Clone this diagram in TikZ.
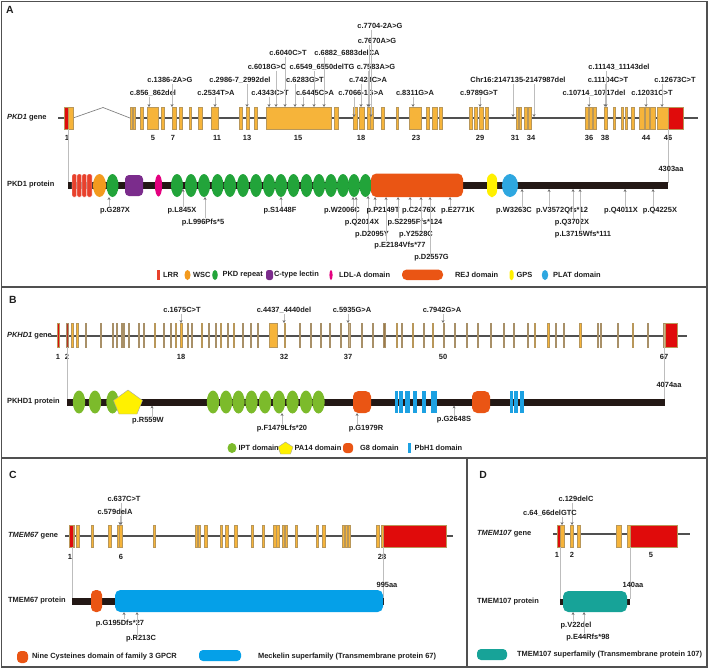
\documentclass[tikz,border=0pt]{standalone}
\usepackage{fontspec}
\setmainfont{Liberation Sans}
\usetikzlibrary{arrows.meta}
\definecolor{exono}{HTML}{F6B43A}
\definecolor{exonb}{HTML}{B8975A}
\definecolor{exred}{HTML}{E00B0B}
\definecolor{tanex}{HTML}{CBB38C}
\definecolor{tanb}{HTML}{A89068}
\definecolor{brownex}{HTML}{9C7A4A}
\definecolor{pbar}{HTML}{231815}
\definecolor{lrr}{HTML}{E8412C}
\definecolor{wsc}{HTML}{F39A1E}
\definecolor{pkd}{HTML}{22A43A}
\definecolor{ctl}{HTML}{7B2C8C}
\definecolor{ldl}{HTML}{E4007F}
\definecolor{rej}{HTML}{EA5514}
\definecolor{gps}{HTML}{FFF000}
\definecolor{plat}{HTML}{2EA7E0}
\definecolor{ipt}{HTML}{7CBB2B}
\definecolor{pa}{HTML}{FFF100}
\definecolor{pbh}{HTML}{1DA1E2}
\definecolor{meck}{HTML}{05A0E8}
\definecolor{tmt}{HTML}{17A398}
\definecolor{txt}{HTML}{1E1E1E}
\definecolor{lgray}{HTML}{BDBDBD}
\definecolor{tipg}{HTML}{6E6E6E}
\definecolor{frm}{HTML}{505050}
\newcommand{\mutdn}[6]{%
  \node[lbl] (#1) at (#2,#3) {#6};
  \coordinate (#1m) at (#4,#5);
  \draw[mutline] (#1.south -| #1m) -- (#1m);
}
\newcommand{\mutup}[6]{%
  \node[lbl] (#1) at (#2,#3) {#6};
  \coordinate (#1m) at (#4,#5);
  \draw[mutline] (#1.north -| #1m) -- (#1m);
}
\begin{document}
\begin{tikzpicture}[x=0.75pt,y=-0.75pt,
  lbl/.style={font=\fontsize{5.6}{6.5}\selectfont\bfseries, text=txt, inner sep=0.6pt},
  lbll/.style={lbl, anchor=west},
  panel/.style={font=\fontsize{7.8}{9}\selectfont\bfseries, text=txt, inner sep=0pt},
  mutline/.style={draw=lgray, line width=0.45pt, -{Stealth[length=2.2pt,width=2.2pt,color=tipg]}},
  conn/.style={draw=lgray, line width=0.6pt},
  geneline/.style={draw=frm, line width=0.85pt},
  exonbox/.style={fill=exono, draw=exonb, line width=0.25pt},
  tanbox/.style={fill=tanex, draw=tanb, line width=0.25pt},
  brownbox/.style={fill=brownex, draw=tanb, line width=0.25pt},
  redbox/.style={fill=exred, draw=exonb, line width=0.25pt},
  frame/.style={draw=frm, line width=1.1pt},
  bar/.style={fill=pbar}
]
\useasboundingbox (0,0) rectangle (709,669);
\fill[white] (0,0) rectangle (709,669);
% ---------- frames ----------
\draw[frame] (1.5,1.5) rectangle (707,667);
\draw[frame] (1.5,287) -- (707,287);
\draw[frame] (1.5,458) -- (707,458);
\draw[frame] (467,458) -- (467,667);
\node[panel] (pA) at (10,10) {A};
\node[panel] (pB) at (13,300) {B};
\node[panel] (pC) at (13,475) {C};
\node[panel] (pD) at (483,475) {D};

% ================= PANEL A =================
\node[lbll] (genA) at (6,118) {\textit{PKD1} gene};
\draw[geneline] (58,118) -- (64,118);
\draw[geneline] (130,118) -- (698,118);
\draw[draw=gray, line width=0.5pt] (73,118) -- (103,107.5) -- (130,118);
\foreach \a/\b in {68/73,130/132,133/135,140/143,147/158,161/164,172/176,179/182,189/191,198/202,211/218,239/242,246/249,254/257,266/331,334/338,353/357,359/364,367/370,370.5/373,381/384,396/398,409/421,426/429,432/437,439/442,469/472,474/477,479/483,485/488,516/518,519/521,524/527,528/531,585/588,589/592,593/596,604/607,613/615,621/623,625/627,631/634,639/644,645/649,650/655,657/668}
  \draw[exonbox] (\a,107) rectangle (\b,129);
\draw[redbox] (64,107) rectangle (68,129);
\draw[redbox] (668,107) rectangle (683,129);
\foreach \x/\n in {67/1,153/5,173/7,217/11,247/13,298/15,361/18,416/23,480/29,515/31,531/34,589/36,605/38,646/44,668/46}
  \node[lbl] (eA\n) at (\x,138) {\n};
% gene mutations
\mutdn{mA1}{153}{93}{149}{107}{c.856\_862del}
\mutdn{mA2}{170}{80}{172}{107}{c.1386-2A>G}
\mutdn{mA3}{216}{93}{215}{107}{c.2534T>A}
\mutdn{mA4}{240}{80}{247}{107}{c.2986-7\_2992del}
\mutdn{mA5}{270}{93}{269}{107}{c.4343C>T}
\mutdn{mA6}{267}{67}{276}{107}{c.6018G>C}
\mutdn{mA7}{288}{53}{285}{107}{c.6040C>T}
\mutdn{mA8}{305}{80}{295}{107}{c.6283G>T}
\mutdn{mA9}{315}{93}{303}{107}{c.6445C>A}
\mutdn{mA10}{322}{67}{314}{107}{c.6549\_6550delTG}
\mutdn{mA11}{347}{53}{324}{107}{c.6882\_6883delCA}
\mutdn{mA12}{361}{93}{354}{117}{c.7066-1G>A}
\mutdn{mA13}{368}{80}{361}{107}{c.7428C>A}
\mutdn{mA14}{376}{67}{368}{107}{c.7583A>G}
\mutdn{mA15}{377}{41}{369}{107}{c.7670A>G}
\mutdn{mA16}{380}{26}{371}{117}{c.7704-2A>G}
\mutdn{mA17}{415}{93}{413}{107}{c.8311G>A}
\mutdn{mA18}{479}{93}{480}{107}{c.9789G>T}
\mutdn{mA19}{518}{80}{513}{117}{Chr16:2147135-2147987del}
\coordinate (mA19n) at (534,117);
\draw[mutline] (mA19.south -| mA19n) -- (mA19n);
\mutdn{mA20}{594}{93}{589}{107}{c.10714\_10717del}
\mutdn{mA21}{608}{80}{605}{107}{c.11104C>T}
\mutdn{mA22}{619}{67}{606}{107}{c.11143\_11143del}
\mutdn{mA23}{652}{93}{646}{107}{c.12031C>T}
\mutdn{mA24}{675}{80}{662}{107}{c.12673C>T}
% protein A
\coordinate (cA1t) at (68,129); \coordinate (cA1b) at (68,182);
\coordinate (cA2t) at (668,129); \coordinate (cA2b) at (668,183);
\draw[conn] (cA1t) -- (cA1b);
\draw[conn] (cA2t) -- (cA2b);
\node[lbll] (protA) at (6,185) {PKD1 protein};
\fill[bar] (68,182) rectangle (668,188.5);
\node[lbl] (aaA) at (671,169) {4303aa};
\foreach \a/\b in {72/76.6,77/81.6,82/86.6,87/92}
  \draw[fill=lrr, draw=white, line width=0.2pt, rounded corners=1pt] (\a,174) rectangle (\b,197);
\fill[wsc] (99.5,185.5) ellipse [x radius=6.5, y radius=11.5];
\foreach \c in {112.5,177,191,204,217.5,230,243,256,269,281,293.5,306.5,319,331,343,354,365.5}
  \fill[pkd] (\c,185.5) ellipse [x radius=6, y radius=11.5];
\fill[ctl, rounded corners=3pt] (125,175) rectangle (143,196);
\fill[ldl] (158.5,185.5) ellipse [x radius=3.6, y radius=11];
\fill[rej, rounded corners=4pt] (371,173.5) rectangle (463,197);
\fill[gps, rounded corners=4.5pt] (487,173.5) rectangle (497,197);
\fill[plat] (510,185.5) ellipse [x radius=8, y radius=11.5];
% protein mutations A
\mutup{pA1}{115}{211}{109}{197}{p.G287X}
\mutup{pA2}{182}{211}{183}{189}{p.L845X}
\mutup{pA3}{203}{223}{205}{197}{p.L996Pfs*5}
\mutup{pA4}{280}{211}{281}{197}{p.S1448F}
\mutup{pA5}{342}{211}{353}{197}{p.W2006C}
\mutup{pA6}{362}{223}{356}{197}{p.Q2014X}
\mutup{pA7}{372}{235}{368}{196}{p.D2095Y}
\mutup{pA8}{383}{211}{375}{197}{p.P2149T}
\mutup{pA9}{400}{246}{386}{197}{p.E2184Vfs*77}
\mutup{pA10}{415}{223}{398}{197}{p.S2295Ffs*124}
\mutup{pA11}{419}{211}{410}{197}{p.C2476X}
\mutup{pA12}{416}{235}{421}{197}{p.Y2528C}
\mutup{pA13}{431.5}{258}{430}{197}{p.D2557G}
\mutup{pA14}{458}{211}{450}{197}{p.E2771K}
\mutup{pA15}{514}{211}{522}{189}{p.W3263C}
\mutup{pA16}{562}{211}{549}{189}{p.V3572Qfs*12}
\mutup{pA17}{572}{223}{573}{189}{p.Q3702X}
\mutup{pA18}{583}{235}{580}{189}{p.L3715Wfs*111}
\mutup{pA19}{621}{211}{625}{189}{p.Q4011X}
\mutup{pA20}{660}{211}{653}{189}{p.Q4225X}
% legend A
\fill[lrr] (157,270) rectangle (159.5,280);
\node[lbll] (lgA1) at (162,275) {LRR};
\fill[wsc] (187.5,275) ellipse [x radius=3, y radius=5];
\node[lbll] (lgA2) at (192,275) {WSC};
\fill[pkd] (215,275) ellipse [x radius=2.8, y radius=5];
\node[lbll] (lgA3) at (221.5,275) {PKD repeat};
\fill[ctl, rounded corners=1.8pt] (266,270) rectangle (273,280);
\node[lbll] (lgA4) at (273,275) {C-type lectin};
\fill[ldl] (331,275) ellipse [x radius=1.6, y radius=5];
\node[lbll] (lgA5) at (338,275) {LDL-A domain};
\fill[rej, rounded corners=3.5pt] (402,269.5) rectangle (443,280);
\node[lbll] (lgA6) at (454,275) {REJ domain};
\fill[gps, rounded corners=1.8pt] (509.5,270) rectangle (513.5,280);
\node[lbll] (lgA7) at (515.5,275) {GPS};
\fill[plat] (545,275) ellipse [x radius=3.2, y radius=5];
\node[lbll] (lgA8) at (552,275) {PLAT domain};

% ================= PANEL B =================
\node[lbll] (genB) at (6,336) {\textit{PKHD1} gene};
\draw[geneline] (51,336) -- (687,336);
\foreach \a/\b in {85/86.5,100/101.5,112/113.5,116/117.5,121/122.3,122.7/124,128/129.5,138/139.5,143/144.5,163/164.5,170/171.5,187/188.5,191/192.5,208/209.5,215/216.5,227/228.5,242/243.5,250/251.5,257/258.5,299/300.5,310/311.5,320/321.5,329/330.5,340/341.5,348/350.5,361/362.5,372/373.5,401/402.5,423/424.5,443/444.5,454/455.5,466/467.5,477/478.5,490/491.5,503/504.5,513/514.5,555/556.5,563/564.5,597/598.5,600/601.5,617/618.5,647/648.5,663/665}
  \draw[tanbox] (\a,323) rectangle (\b,347);
\foreach \a/\b in {71/73,76/78,154/155.5,175/176.5,180/182,201/202.5,220/221.5,233/234.5,269/277,284/285.5,396/397.5,412/413.5,432/433.5,534/535.5,547/549.5,579/581.5,632/633.5}
  \draw[exonbox] (\a,323) rectangle (\b,347);
\foreach \a/\b in {383/385.5,527/528.5}
  \draw[brownbox] (\a,323) rectangle (\b,347);
\draw[fill=lrr!80!black, draw=tanb, line width=0.25pt] (66,323) rectangle (68,347);
\draw[redbox] (57,323) rectangle (59,347);
\draw[redbox] (665,323) rectangle (677,347);
\foreach \x/\n in {58/1,67/2,181/18,284/32,348/37,443/50,664/67}
  \node[lbl] (eB\n) at (\x,357) {\n};
\mutdn{mB1}{182}{310}{181}{323}{c.1675C>T}
\mutdn{mB2}{284}{310}{284}{323}{c.4437\_4440del}
\mutdn{mB3}{352}{310}{348}{323}{c.5935G>A}
\mutdn{mB4}{442}{310}{443}{323}{c.7942G>A}
% protein B
\coordinate (cB1t) at (67,347); \coordinate (cB1b) at (67,399);
\coordinate (cB2t) at (664,347); \coordinate (cB2b) at (664,400);
\draw[conn] (cB1t) -- (cB1b);
\draw[conn] (cB2t) -- (cB2b);
\node[lbll] (protB) at (6,402) {PKHD1 protein};
\fill[bar] (67,399) rectangle (665,405.5);
\node[lbl] (aaB) at (669,385) {4074aa};
\foreach \c in {79,95,112.5,213,226,238.5,251.5,265,279,292.5,306,318.5}
  \fill[ipt] (\c,402) ellipse [x radius=6.2, y radius=11.5];
\draw[fill=pa, draw=gray!70, line width=0.3pt] (128,390) -- (142.5,400.5) -- (137,414) -- (119,414) -- (113.5,400.5) -- cycle;
\fill[rej, rounded corners=4pt] (353,391) rectangle (371,413);
\fill[rej, rounded corners=4pt] (472,391) rectangle (490,413);
\foreach \a/\b in {395/398.2,398.8/402.5,405/409.5,413/417,422/426,431/437,510/513.3,514/517.7,520/524.3}
  \fill[pbh] (\a,391) rectangle (\b,413);
\mutup{pB1}{148}{421}{152}{405.5}{p.R559W}
\mutup{pB2}{282}{429}{282}{413}{p.F1479Lfs*20}
\mutup{pB3}{366}{429}{357}{413}{p.G1979R}
\mutup{pB4}{454}{420}{454}{405.5}{p.G2648S}
% legend B
\fill[ipt] (232,448) ellipse [x radius=4.5, y radius=5];
\node[lbll] (lgB1) at (237.5,448) {IPT domain};
\draw[fill=pa, draw=gray!70, line width=0.3pt] (285.5,442) -- (293,447) -- (290.5,454) -- (280.5,454) -- (278,447) -- cycle;
\node[lbll] (lgB2) at (293.5,448) {PA14 domain};
\fill[rej, rounded corners=2.5pt] (343,443) rectangle (353,453);
\node[lbll] (lgB3) at (359,448) {G8 domain};
\fill[pbh] (408,443) rectangle (411,453);
\node[lbll] (lgB4) at (413.5,448) {PbH1 domain};

% ================= PANEL C =================
\node[lbll] (genC) at (7,536) {\textit{TMEM67} gene};
\draw[geneline] (65,536) -- (453,536);
\foreach \a/\b in {73/74,76/79,91/93,108/111,117/119,119.5/122,153/155,195/197,198/200,204/207,220/222,225/228,234/237,251/253,262/264,273/276,276.5/279,282/284,285/287,295/297,316/318,322/325,342/344,345/347,348/350,376/379,381/383}
  \draw[exonbox] (\a,525) rectangle (\b,547);
\draw[redbox] (69,525) rectangle (73,547);
\draw[redbox] (383,525) rectangle (446,547);
\foreach \x/\n in {70/1,121/6,382/28}
  \node[lbl] (eC\n) at (\x,557) {\n};
\mutdn{mC1}{124}{499}{121}{525}{c.637C>T}
\mutdn{mC2}{115}{512}{120}{525}{c.579delA}
\coordinate (cC1t) at (72,547); \coordinate (cC1b) at (72,598);
\coordinate (cC2t) at (383,547); \coordinate (cC2b) at (383,600);
\draw[conn] (cC1t) -- (cC1b);
\draw[conn] (cC2t) -- (cC2b);
\node[lbll] (protC) at (7,601) {TMEM67 protein};
\fill[bar] (72,598) rectangle (384,604.5);
\node[lbl] (aaC) at (387,585) {995aa};
\fill[rej, rounded corners=3.5pt] (91,590) rectangle (102,612);
\fill[meck, rounded corners=4pt] (115,590) rectangle (383,612);
\mutup{pC1}{120}{624}{124}{612}{p.G195Dfs*27}
\mutup{pC2}{141}{639}{137}{612}{p.R213C}
\fill[rej, rounded corners=3pt] (17,651) rectangle (28,663);
\node[lbll] (lgC1) at (31,657) {Nine Cysteines domain of family 3 GPCR};
\fill[meck, rounded corners=3pt] (199,650) rectangle (241,661);
\node[lbll] (lgC2) at (257,657) {Meckelin superfamily (Transmembrane protein 67)};

% ================= PANEL D =================
\node[lbll] (genD) at (476,534) {\textit{TMEM107} gene};
\draw[geneline] (553,534) -- (690,534);
\foreach \a/\b in {560/564,570/573,577/580,616/621,627/630}
  \draw[exonbox] (\a,525) rectangle (\b,547);
\draw[redbox] (557,525) rectangle (560,547);
\draw[redbox] (630,525) rectangle (677,547);
\foreach \x/\n in {557/1,572/2,651/5}
  \node[lbl] (eD\n) at (\x,555) {\n};
\mutdn{mD1}{576}{499}{572}{525}{c.129delC}
\mutdn{mD2}{550}{513}{562}{525}{c.64\_66delGTC}
\coordinate (cD1t) at (560,547); \coordinate (cD1b) at (560,599);
\coordinate (cD2t) at (630,547); \coordinate (cD2b) at (630,599);
\draw[conn] (cD1t) -- (cD1b);
\draw[conn] (cD2t) -- (cD2b);
\node[lbll] (protD) at (476,602) {TMEM107 protein};
\fill[bar] (560,599) rectangle (630,605);
\fill[tmt, rounded corners=4pt] (563,591) rectangle (627,612);
\node[lbl] (aaD) at (633,585) {140aa};
\mutup{pD1}{576}{626}{573}{612}{p.V22del}
\mutup{pD2}{588}{638}{584}{612}{p.E44Rfs*98}
\fill[tmt, rounded corners=3pt] (477,649) rectangle (507,660);
\node[lbll] (lgD1) at (516,655) {TMEM107 superfamily (Transmembrane protein 107)};
\end{tikzpicture}
\end{document}
